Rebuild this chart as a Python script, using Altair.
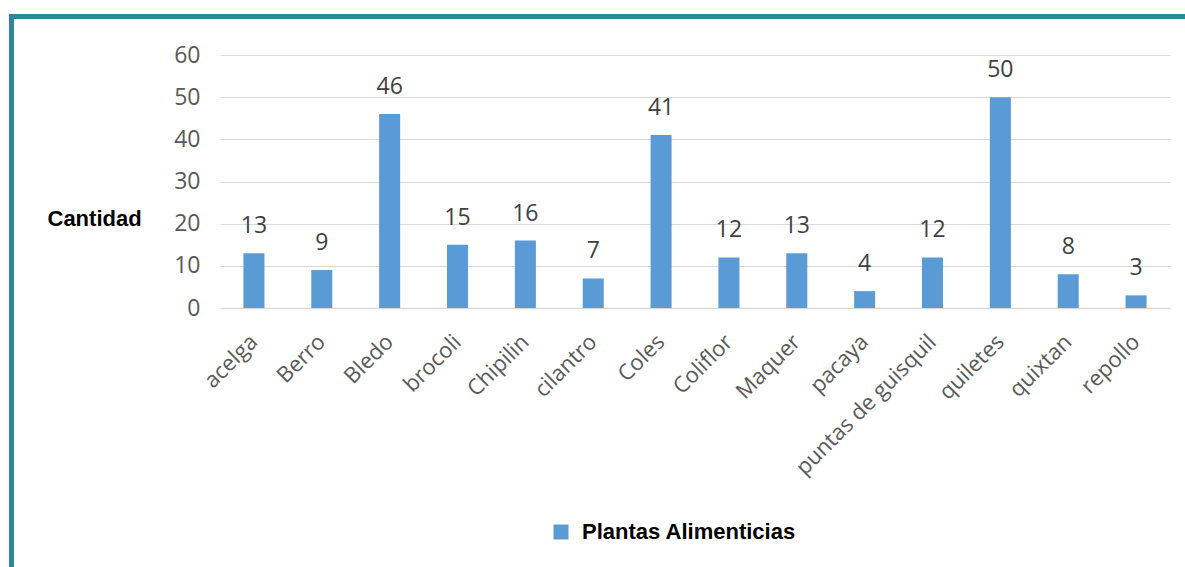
import altair as alt
import pandas as pd

# Food plants counted, one bar per plant
plantas = ["acelga", "Berro", "Bledo", "brocoli", "Chipilin", "cilantro", "Coles",
           "Coliflor", "Maquer", "pacaya", "puntas de guisquil", "quiletes", "quixtan", "repollo"]
cantidad = [13, 9, 46, 15, 16, 7, 41, 12, 13, 4, 12, 50, 8, 3]
serie = "Plantas Alimenticias"
y_ticks = [0, 10, 20, 30, 40, 50, 60]

df = pd.DataFrame({"planta": plantas, "cantidad": cantidad, "serie": serie})

BAR = "#5B9BD5"
FRAME = "#31869B"
TICK_FONT = "Open Sans"
BOLD_FONT = "Liberation Sans, Arial, sans-serif"

W, H = 950, 253

x_enc = alt.X("planta:N", sort=plantas,
              scale=alt.Scale(paddingInner=0.69, paddingOuter=0.345),
              axis=alt.Axis(title=None, labelAngle=-45, labelAlign="right",
                            labelBaseline="middle", labelPadding=30, grid=False,
                            labelFont=TICK_FONT, labelFontSize=22, labelColor="#595959",
                            ticks=False, domainColor="#D9D9D9", domainWidth=1.5,
                            labelOverlap=False, labelLimit=400))

y_enc = alt.Y("cantidad:Q", scale=alt.Scale(domain=[0, 60], nice=False),
              axis=alt.Axis(title="Cantidad", titleAngle=0, titleAlign="left",
                            titleBaseline="middle", titleX=-173, titleY=163,
                            titleFont=BOLD_FONT, titleFontSize=22, titleFontWeight="bold",
                            titleColor="#000000", values=y_ticks,
                            labelFont=TICK_FONT, labelFontSize=23, labelColor="#595959",
                            labelPadding=20, ticks=False, domain=False,
                            gridColor="#D9D9D9", gridWidth=1.2))

bars = alt.Chart(df).mark_bar(color=BAR).encode(
    x=x_enc,
    y=y_enc,
    color=alt.Color("serie:N", scale=alt.Scale(range=[BAR]),
                    legend=alt.Legend(title=None, orient="none", legendX=330, legendY=466,
                                      symbolType="square", symbolSize=225,
                                      symbolStrokeWidth=0, labelFont=BOLD_FONT,
                                      labelFontSize=22, labelFontWeight="bold",
                                      labelColor="#000000", labelOffset=10,
                                      labelLimit=400)),
)

labels = alt.Chart(df).mark_text(baseline="bottom", dy=-15, font=TICK_FONT,
                                 fontSize=23, color="#404040").encode(
    x=alt.X("planta:N", sort=plantas),
    y="cantidad:Q",
    text="cantidad:Q",
)

# Teal frame along the top and left edges
frame_left = alt.Chart(df).mark_rule(color=FRAME, strokeWidth=5).encode(
    x=alt.value(-208.5), y=alt.value(-40.5), y2=alt.value(H + 270))
frame_top = alt.Chart(df).mark_rule(color=FRAME, strokeWidth=5).encode(
    x=alt.value(-211), x2=alt.value(W + 40), y=alt.value(-38.5))

chart = alt.layer(bars, labels, frame_left, frame_top).properties(
    width=W, height=H,
    background="#FFFFFF",
    autosize=alt.AutoSizeParams(type="none"),
    padding={"left": 220, "top": 55, "right": 15, "bottom": 259},
).configure_view(stroke=None, strokeWidth=0)

chart.save("out.html", embed_options={"renderer": "svg", "actions": False})
